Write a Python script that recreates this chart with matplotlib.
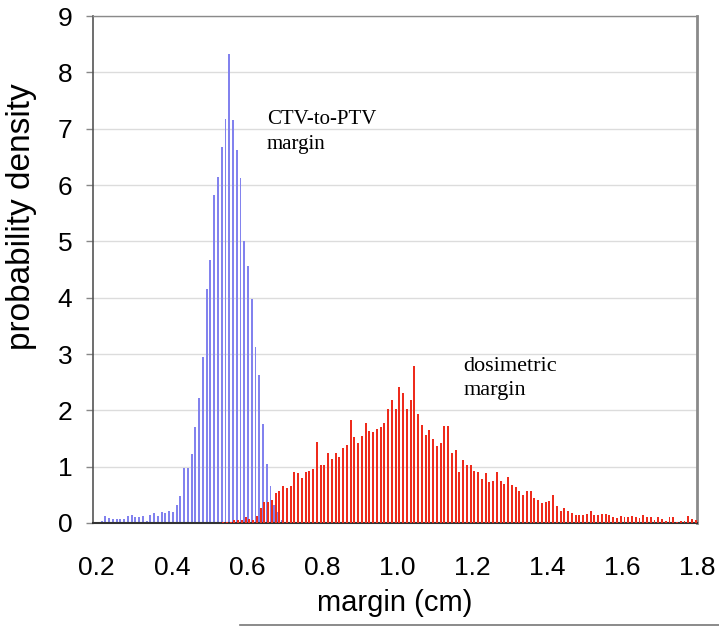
import numpy as np
import matplotlib
matplotlib.use("Agg")
import matplotlib.pyplot as plt
from matplotlib.lines import Line2D

# bin layout (cm): 0.01 cm bins starting at 0.21
bin_width = 0.01
ctv_first_bin = 0.21   # left edge of first CTV-to-PTV bin
dos_first_bin = 0.53   # left edge of first dosimetric bin

# CTV-to-PTV margin, probability density per bin
ctv_density = [
    0.04, 0.12, 0.09, 0.07, 0.07, 0.07, 0.07, 0.13, 0.15, 0.10,
    0.10, 0.12, 0.04, 0.15, 0.17, 0.12, 0.20, 0.18, 0.22, 0.20,
    0.32, 0.48, 0.97, 0.97, 1.22, 1.70, 2.22, 2.94, 4.16, 4.67,
    5.82, 6.14, 6.67, 7.17, 8.32, 7.15, 6.63, 6.12, 5.00, 4.57,
    3.98, 3.12, 2.63, 1.75, 1.05, 0.65, 0.32, 0.20, 0.05,
]

# dosimetric margin, probability density per bin
dos_density = [
    0.01, 0.02, 0.02, 0.05, 0.05, 0.05, 0.10, 0.07, 0.06, 0.13,
    0.26, 0.37, 0.38, 0.40, 0.53, 0.57, 0.65, 0.62, 0.65, 0.91,
    0.88, 0.80, 0.91, 0.93, 0.95, 1.44, 1.03, 1.03, 1.25, 1.14,
    1.24, 1.17, 1.34, 1.39, 1.83, 1.52, 1.42, 1.55, 1.78, 1.64,
    1.62, 1.66, 1.70, 1.77, 2.02, 2.18, 2.02, 2.41, 2.31, 2.02,
    2.18, 2.79, 1.93, 1.74, 1.56, 1.65, 1.49, 1.37, 1.42, 1.72,
    1.72, 1.24, 1.30, 0.91, 1.11, 1.03, 1.03, 0.93, 0.91, 0.78,
    0.88, 0.72, 0.75, 0.91, 0.75, 0.70, 0.82, 0.67, 0.64, 0.56,
    0.50, 0.56, 0.56, 0.44, 0.41, 0.36, 0.38, 0.39, 0.50, 0.31,
    0.21, 0.26, 0.22, 0.18, 0.14, 0.14, 0.15, 0.16, 0.21, 0.14,
    0.15, 0.16, 0.16, 0.15, 0.10, 0.08, 0.12, 0.11, 0.11, 0.12,
    0.10, 0.08, 0.14, 0.11, 0.11, 0.05, 0.11, 0.07, 0.04, 0.11,
    0.11, 0.02, 0.04, 0.04, 0.12, 0.07, 0.05,
]

x_ticks = [0.2, 0.4, 0.6, 0.8, 1.0, 1.2, 1.4, 1.6, 1.8]
y_ticks = [0, 1, 2, 3, 4, 5, 6, 7, 8, 9]

ctv_centers = ctv_first_bin + bin_width * (np.arange(len(ctv_density)) + 0.5)
dos_centers = dos_first_bin + bin_width * (np.arange(len(dos_density)) + 0.5)

plt.rcParams['font.family'] = 'Liberation Sans'

fig = plt.figure(figsize=(7.19, 6.28), dpi=100)
ax = fig.add_axes([0.1293, 0.1672, 0.8401, 0.8073])

ax.bar(ctv_centers - 0.0018, ctv_density, width=0.0052, color='#8282ee', linewidth=0, zorder=2)
ax.bar(dos_centers + 0.0017, dos_density, width=0.0052, color='#ee2b1c', linewidth=0, zorder=3)

ax.set_xlim(0.19, 1.80)
ax.set_ylim(0, 9)
ax.set_xticks(x_ticks)
ax.set_xticklabels(['%.1f' % v for v in x_ticks])
ax.set_yticks(y_ticks)

ax.yaxis.grid(True, color='#dcdcdc', linewidth=1.0, zorder=0)
ax.set_axisbelow(True)

ax.tick_params(axis='x', length=0, pad=24, labelsize=19)
ax.tick_params(axis='y', length=5, width=1, color='#888888', pad=10, labelsize=19, direction='out')

ax.spines['left'].set_color('#555555')
ax.spines['left'].set_linewidth(1.2)
ax.spines['bottom'].set_color('#333333')
ax.spines['bottom'].set_linewidth(1.5)
ax.spines['top'].set_color('#8a8a8a')
ax.spines['top'].set_linewidth(1.0)
ax.spines['right'].set_color('#8a8a8a')
ax.spines['right'].set_linewidth(2.0)

ax.set_xlabel('margin (cm)', fontsize=21)
ax.xaxis.set_label_coords(0.499, -0.13)
ax.set_ylabel('probability density', fontsize=24)
ax.yaxis.set_label_coords(-0.093, 0.605)

ax.text(0.653, 7.33, 'CTV-to-PTV\nmargin', family='Liberation Serif', fontsize=15,
        ha='left', va='top', linespacing=1.45)
ax.text(1.177, 2.95, 'dosimetric\nmargin', family='Liberation Serif', fontsize=16,
        ha='left', va='top', linespacing=1.35)

# thin rule along the bottom of the picture
fig.add_artist(Line2D([0.334, 1.0], [0.004, 0.004], color='#777777', linewidth=1.2,
                      transform=fig.transFigure))

fig.savefig('out.png', dpi=100)
